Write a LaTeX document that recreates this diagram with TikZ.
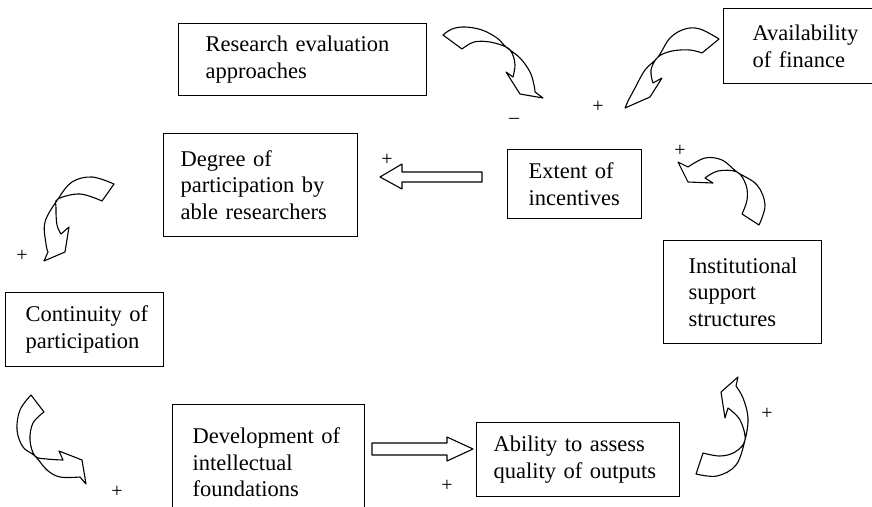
\documentclass[tikz,border=0pt]{standalone}
\usepackage{fontspec}
\setmainfont{Liberation Serif}
\hyphenpenalty=10000
\exhyphenpenalty=10000
\begin{document}
\begin{tikzpicture}[x=1pt,y=-1pt,
  box/.style={draw, line width=1.2pt, anchor=north west, inner xsep=0pt, inner ysep=0pt,
    align=left, font=\fontsize{22.5}{26.5}\selectfont},
  carrow/.style={draw, line width=1.1pt, line join=round},
  sign/.style={font=\fontsize{20}{20}\selectfont, inner sep=0pt}]
\useasboundingbox (0,0) rectangle (872,506);
\clip (0,0) rectangle (872,506);

% boxes
\node[box, minimum width=248pt, minimum height=72pt, text width=194pt] (research) at (178,23) {\mbox{Research evaluation}\\\mbox{approaches}};
\node[box, minimum width=194pt, minimum height=103pt, text width=160pt] (degree) at (163,133) {\mbox{Degree of}\\\mbox{participation by}\\\mbox{able researchers}};
\node[box, minimum width=134pt, minimum height=69pt, text width=92pt] (extent) at (507,149) {\mbox{Extent of}\\\mbox{incentives}};
\node[box, minimum width=150pt, minimum height=75pt, text width=92pt] (avail) at (723,8) {\mbox{Availability}\\\mbox{of finance}};
\node[box, minimum width=158pt, minimum height=103pt, text width=108pt] (inst) at (663,240) {\mbox{Institutional}\\\mbox{support}\\\mbox{structures}};
\node[box, minimum width=158pt, minimum height=74pt, text width=118pt] (cont) at (5,292) {\mbox{Continuity of}\\\mbox{participation}};
\node[box, minimum width=192pt, minimum height=116pt, text width=152pt] (dev) at (172,404) {\mbox{Development of}\\\mbox{intellectual}\\\mbox{foundations}};
\node[box, minimum width=203pt, minimum height=74pt, text width=169pt] (abil) at (476,422) {\mbox{Ability to assess}\\\mbox{quality of outputs}};

% straight block arrows
\draw[carrow] (482,172) -- (402,172) -- (402,164) -- (380,177) -- (402,189) -- (402,182) -- (482,182) -- cycle;
\draw[carrow] (372,443) -- (447,443) -- (447,437) -- (473,449) -- (447,461) -- (447,455) -- (372,455) -- cycle;

% curved block arrows
% A: research evaluation -> incentives
\draw[carrow] plot[smooth, tension=0.6] coordinates {(443,35) (452,29) (465,27) (482,30) (497,38) (506,47) (520,58) (530,72) (534,85) (535,92)}
  -- (543,98) -- (520,94) -- (506,72)
  -- plot[smooth, tension=0.6] coordinates {(513,77) (515,65) (512,53) (506,47) (490,42) (474,42) (462,49)} -- cycle;
% B: degree -> continuity
\draw[carrow] plot[smooth, tension=0.6] coordinates {(114,184) (92,177) (72,182) (58,199) (45,222) (46,244) (48,252)}
  -- (44,261) -- (65,252) -- (69,227)
  -- plot[smooth, tension=0.6] coordinates {(61,234) (57,225) (56,208) (58,199) (80,194) (102,201)} -- cycle;
% C: availability of finance -> incentives
\draw[carrow] plot[smooth, tension=0.6] coordinates {(719,39) (700,29) (685,29) (670,38) (658,57) (645,70) (635,88) (628,101)}
  -- (625,108) -- (650,97) -- (662,78)
  -- plot[smooth, tension=0.6] coordinates {(653,83) (651,70) (658,57) (672,51) (690,50) (702,53)} -- cycle;
% D: institutional support -> incentives
\draw[carrow] plot[smooth, tension=0.6] coordinates {(759,225) (765,205) (757,185) (737,172) (722,160) (705,158) (688,167)}
  -- (678,162) -- (688,182) -- (713,183)
  -- plot[smooth, tension=0.6] coordinates {(705,178) (718,171) (737,172) (746,185) (747,200) (742,214)} -- cycle;
% E: ability -> institutional support
\draw[carrow] plot[smooth, tension=0.6] coordinates {(696,474) (717,476) (736,465) (745,440) (748,418) (743,398) (736,386)}
  -- (738,377) -- (721,392) -- (725,418)
  -- plot[smooth, tension=0.6] coordinates {(728,408) (740,420) (745,440) (735,452) (720,456) (703,453)} -- cycle;
% F: continuity -> development
\draw[carrow] plot[smooth, tension=0.6] coordinates {(31,395) (20,410) (17,430) (23,447) (35,456) (47,470) (60,477) (80,477)}
  -- (86,484) -- (82,460) -- (59,451)
  -- plot[smooth, tension=0.6] coordinates {(63,460) (47,459) (35,456) (30,440) (33,423) (44,412)} -- cycle;

% signs
\node[sign] (s1) at (387,160) {+};
\node[sign] (s2) at (514,121) {\textendash};
\node[sign] (s3) at (598,107) {+};
\node[sign] (s4) at (680,151) {+};
\node[sign] (s5) at (22,256) {+};
\node[sign] (s6) at (117,492) {+};
\node[sign] (s7) at (447,486) {+};
\node[sign] (s8) at (767,414) {+};
\end{tikzpicture}
\end{document}
